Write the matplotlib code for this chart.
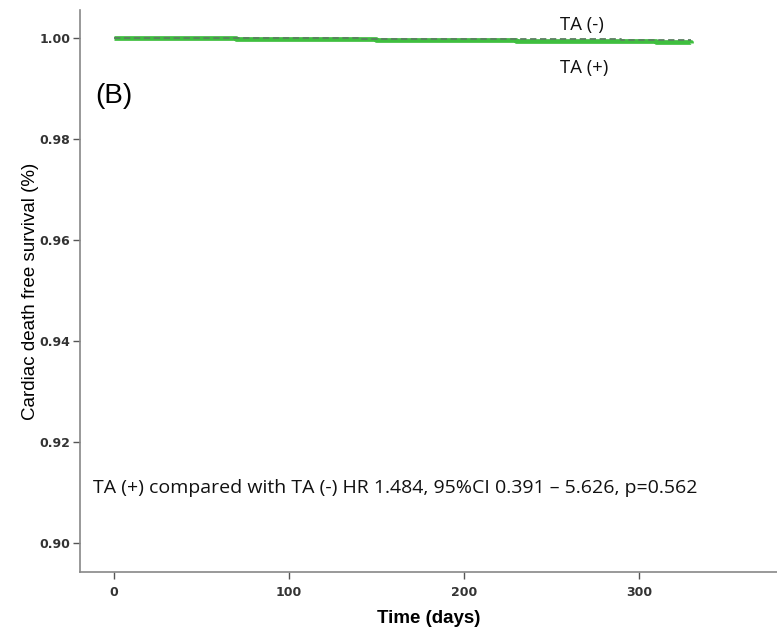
#!/usr/bin/env python3

import matplotlib
matplotlib.use('Agg')
import matplotlib.pyplot as plt
import numpy as np

################################################################################

# Kaplan-Meier steps
time_neg = [0, 40, 90, 140, 190, 240, 290, 330]
surv_neg = [1.0, 0.99995, 0.9999, 0.99985, 0.9998, 0.99972, 0.99965, 0.9996]

time_pos = [0, 30, 70, 110, 150, 190, 230, 270, 310, 330]
surv_pos = [1.0, 0.99992, 0.99984, 0.99976, 0.99966, 0.99956, 0.99944, 0.99932, 0.9992, 0.9991]

x_ticks = [0, 100, 200, 300]
y_ticks = [0.90, 0.92, 0.94, 0.96, 0.98, 1.00]

annotation = 'TA (+) compared with TA (-) HR 1.484, 95%CI 0.391 \u2013 5.626, p=0.562'

################################################################################

def main():
	fig = plt.figure(figsize = (7.77, 6.35), dpi = 100)
	ax = fig.add_axes([0.103, 0.099, 0.897, 0.885])

	# solid green curve for TA (+), dashed darker one on top for TA (-)
	ax.step(time_pos, surv_pos, where = 'post', color = '#3fbf3f', linewidth = 3.4,
	        solid_capstyle = 'butt', zorder = 2)
	ax.step(time_neg, surv_neg, where = 'post', color = '#5a8060', linewidth = 1.3,
	        linestyle = (0, (3.5, 2)), zorder = 3)

	ax.set_xlim(-19.4, 379)
	ax.set_ylim(0.8943, 1.0055)
	ax.set_xticks(x_ticks)
	ax.set_yticks(y_ticks)
	ax.set_xticklabels([str(t) for t in x_ticks], fontweight = 'bold', fontsize = 9,
	                   family = 'DejaVu Sans', color = '#333333')
	ax.set_yticklabels([f'{t:.2f}' for t in y_ticks], fontweight = 'bold', fontsize = 9,
	                   family = 'DejaVu Sans', color = '#333333')
	ax.tick_params(axis = 'both', direction = 'out', length = 5, width = 1, color = '#555555')
	ax.tick_params(axis = 'x', pad = 5)
	ax.tick_params(axis = 'y', pad = 2)

	for side in ('top', 'right'):
		ax.spines[side].set_visible(False)
	for side in ('left', 'bottom'):
		ax.spines[side].set_color('#888888')
		ax.spines[side].set_linewidth(1.2)

	ax.set_xlabel('Time (days)', fontsize = 13.5, fontweight = 'bold',
	              family = 'Liberation Sans', labelpad = 8)
	ax.set_ylabel('Cardiac death free survival (%)', fontsize = 13.5,
	              family = 'Liberation Sans', labelpad = 0)

	# texts inside the plot
	ax.text(0.0215, 0.847, '(B)', transform = ax.transAxes, fontsize = 20,
	        family = 'Liberation Sans', va = 'center')
	ax.text(0.689, 0.973, 'TA (-)', transform = ax.transAxes, fontsize = 13.3,
	        family = 'Open Sans', va = 'center', color = '#111111')
	ax.text(0.689, 0.897, 'TA (+)', transform = ax.transAxes, fontsize = 13.3,
	        family = 'Open Sans', va = 'center', color = '#111111')
	ax.text(0.018, 0.149, annotation, transform = ax.transAxes, fontsize = 14,
	        family = 'Open Sans', va = 'center', color = '#111111')

	fig.savefig('out.png', dpi = 100)

################################################################################

if __name__ == '__main__':
	main()
